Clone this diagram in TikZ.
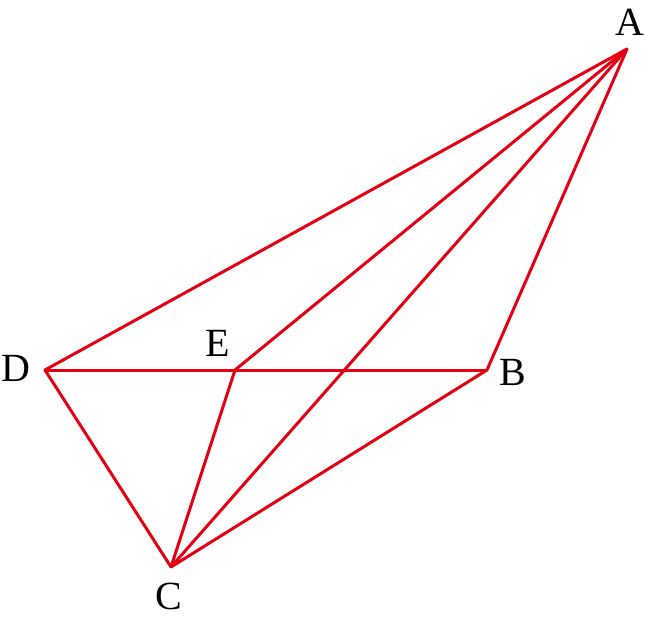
\documentclass[tikz,border=0pt]{standalone}
\usepackage{fontspec}
\setmainfont{Liberation Serif}
\definecolor{edgered}{RGB}{228,0,20}
\begin{document}
\begin{tikzpicture}[x=1pt,y=-1pt,
  edge/.style={draw=edgered,line width=3pt,line join=round},
  lbl/.style={inner sep=0pt,font=\fontsize{40}{42}\selectfont}]
\useasboundingbox (0,0) rectangle (646,623);
\coordinate (A) at (627,49);
\coordinate (B) at (487,370);
\coordinate (C) at (171,567);
\coordinate (D) at (45,370);
\coordinate (E) at (235,370);
\draw[edge] (A) -- (D) -- (C) -- (B) -- cycle;
\draw[edge] (D) -- (B);
\draw[edge] (A) -- (E) -- (C);
\draw[edge] (A) -- (C);
\node[lbl] (lA) at (630,22.5) {A};
\node[lbl] (lB) at (513,372.5) {B};
\node[lbl] (lC) at (168.5,596.5) {C};
\node[lbl] (lD) at (16,368.5) {D};
\node[lbl] (lE) at (218,343.5) {E};
\end{tikzpicture}
\end{document}
